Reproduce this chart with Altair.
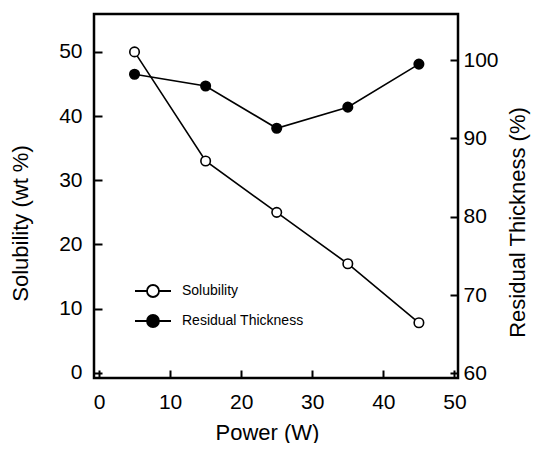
import altair as alt
import pandas as pd

power = [5, 15, 25, 35, 45]
solubility = [50.0, 33.0, 25.0, 17.0, 7.8]
residual = [98.2, 96.7, 91.3, 94.0, 99.5]
series_names = ["Solubility", "Residual Thickness"]
x_ticks = [0, 10, 20, 30, 40, 50]
left_ticks = [0, 10, 20, 30, 40, 50]
right_ticks = [60, 70, 80, 90, 100]

df = pd.DataFrame({
    "power": power + power,
    "value": solubility + residual,
    "series": [series_names[0]] * len(power) + [series_names[1]] * len(power),
})

W = 364
H = 364
FONT = "Liberation Sans"

xscale = alt.Scale(domain=[-0.7, 50.5], nice=False, zero=False)
lscale = alt.Scale(domain=[-0.8, 55.9], nice=False, zero=False)
rscale = alt.Scale(domain=[59.4, 105.9], nice=False, zero=False)

fill_enc = alt.Fill(
    "series:N",
    scale=alt.Scale(domain=series_names, range=["white", "black"]),
    legend=alt.Legend(
        title=None,
        orient="none",
        legendX=52,
        legendY=270,
        symbolType="M-3,0L-1,0M1,0L3,0M-1,0A1,1,0,1,1,1,0A1,1,0,1,1,-1,0Z",
        symbolSize=144,
        symbolStrokeColor="black",
        symbolStrokeWidth=1.8,
        symbolOpacity=1,
        labelOffset=22,
        labelFont=FONT,
        labelFontSize=14,
        labelColor="black",
        rowPadding=10,
        padding=0,
    ),
)

def tick_axis(orient, values, offset):
    return alt.Axis(
        orient=orient, values=values, offset=offset, labels=False, domain=False,
        ticks=True, tickSize=8, tickWidth=2, tickColor="black", title=None, grid=False,
    )

sol = df[df["series"] == series_names[0]]
res = df[df["series"] == series_names[1]]

sol_line = alt.Chart(sol).mark_line(color="black", strokeWidth=1.6).encode(
    x=alt.X("power:Q", scale=xscale, axis=alt.Axis(
        orient="bottom", values=x_ticks, title="Power (W)", ticks=False, domain=False,
        labelPadding=13, titlePadding=10, titleX=173, grid=False)),
    y=alt.Y("value:Q", scale=lscale, axis=alt.Axis(
        orient="left", values=left_ticks, title="Solubility (wt %)", ticks=False, domain=False,
        labelPadding=12, titlePadding=26, titleY=209, grid=False)),
)
sol_pts = alt.Chart(sol).mark_point(filled=True, stroke="black", strokeWidth=1.6, size=90, opacity=1).encode(
    x=alt.X("power:Q", scale=xscale, axis=tick_axis("top", x_ticks, -H)),
    y=alt.Y("value:Q", scale=lscale, axis=tick_axis("right", left_ticks, -W)),
    fill=fill_enc,
)
res_line = alt.Chart(res).mark_line(color="black", strokeWidth=1.6).encode(
    x=alt.X("power:Q", scale=xscale, axis=None),
    y=alt.Y("value:Q", scale=rscale, axis=alt.Axis(
        orient="right", values=right_ticks, title="Residual Thickness (%)", ticks=False, domain=False,
        labelPadding=5, titlePadding=31, titleY=208, titleAngle=270, titleBaseline="bottom", grid=False)),
)
res_pts = alt.Chart(res).mark_point(filled=True, stroke="black", strokeWidth=1.6, size=90, opacity=1).encode(
    x=alt.X("power:Q", scale=xscale, axis=None),
    y=alt.Y("value:Q", scale=rscale, axis=tick_axis("left", right_ticks, -W)),
    fill=fill_enc,
)

chart = alt.layer(
    alt.layer(sol_line, sol_pts),
    alt.layer(res_line, res_pts),
).resolve_scale(y="independent").properties(
    width=W, height=H,
    autosize=alt.AutoSizeParams(type="none"),
    padding={"left": 86, "top": 6, "right": 75, "bottom": 65},
    background="white",
).configure_view(
    stroke="black", strokeWidth=2.5,
).configure_axis(
    labelFont=FONT, labelFontSize=21, labelColor="black",
    titleFont=FONT, titleFontSize=22, titleColor="black", titleFontWeight="normal",
)

chart.save("out.html", embed_options={"renderer": "svg", "actions": False})
